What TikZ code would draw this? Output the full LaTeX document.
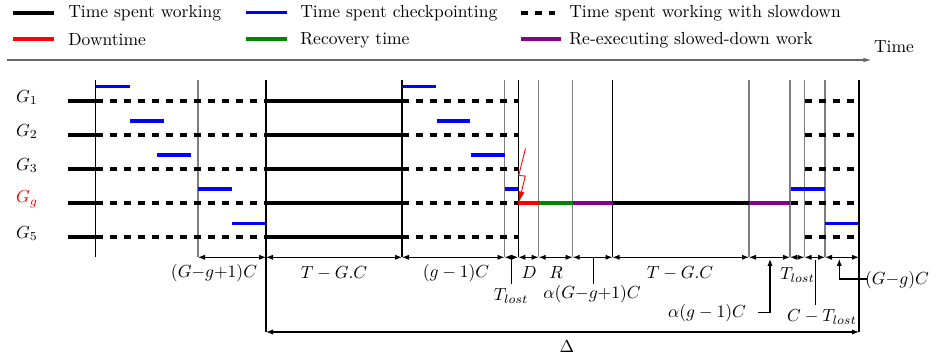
\documentclass[tikz,border=0pt]{standalone}
\usetikzlibrary{arrows.meta}
\definecolor{ckblue}{RGB}{0,0,255}
\definecolor{dtred}{RGB}{255,0,0}
\definecolor{recgreen}{RGB}{0,135,0}
\definecolor{rexpurple}{RGB}{135,0,140}
\definecolor{vgray}{RGB}{125,125,125}
\begin{document}
\begin{tikzpicture}[x=0.5714pt,y=-0.5714pt,
  work/.style={line width=2.3pt,draw=black},
  slow/.style={line width=2.3pt,draw=black,dash pattern=on 4pt off 4pt},
  ckpt/.style={line width=1.9pt,draw=ckblue},
  down/.style={line width=2.3pt,draw=dtred},
  reco/.style={line width=2.3pt,draw=recgreen},
  rexe/.style={line width=2.3pt,draw=rexpurple},
  bline/.style={line width=0.6pt,draw=black},
  gline/.style={line width=0.6pt,draw=vgray},
  dimarrow/.style={line width=0.6pt,draw=black,{Latex[length=4pt,width=3pt]}-{Latex[length=4pt,width=3pt]}},
  uparrow/.style={line width=0.6pt,draw=black,-{Latex[length=4pt,width=3pt]}},
  thin/.style={line width=0.6pt,draw=black},
  legtext/.style={anchor=west,inner sep=0pt},
  lbl/.style={inner sep=0pt},
]
\useasboundingbox (0,0) rectangle (936,360);

% ---------- legend ----------
\draw[work] (13,12.7) -- (54,12.7);
\node[legtext] (lg1) at (68,13) {Time spent working};
\draw[ckpt] (246,12.7) -- (287,12.7);
\node[legtext] (lg2) at (300,13) {Time spent checkpointing};
\draw[slow] (521,12.7) -- (555,12.7);
\node[legtext] (lg3) at (569,13) {Time spent working with slowdown};
\draw[down] (13,39.3) -- (54,39.3);
\node[legtext] (lg4) at (68,40) {Downtime};
\draw[reco] (246,39.3) -- (287,39.3);
\node[legtext] (lg5) at (300,40) {Recovery time};
\draw[rexe] (521,39.3) -- (561,39.3);
\node[legtext] (lg6) at (569,40) {Re-executing slowed-down work};

% ---------- time axis ----------
\coordinate (ax0) at (7,60);
\coordinate (ax1) at (872,60);
\draw[line width=0.7pt,draw=black!60,-{Latex[length=5pt,width=2.6pt]}] (ax0) -- (ax1);
\node[lbl] (timelbl) at (894,47) {Time};

% ---------- vertical lines ----------
\foreach \n/\x in {0/95.7,1/198,2/266,3/402,4/504.5,5/518.3,6/538.7,7/572.7,8/612.5,9/749,10/790,11/804.5,12/825,13/859}{
  \coordinate (v\n t) at (\x,80);
  \coordinate (v\n d) at (\x,257.3);
}
\coordinate (v2b) at (266,332);
\coordinate (v13b) at (859,332);
\draw[bline] (v0t) -- (v0d);
\draw[gline] (v1t) -- (v1d);
\draw[bline] (v2t) -- (v2b);
\draw[bline] (v3t) -- (v3d);
\draw[gline] (v4t) -- (v4d);
\draw[bline] (v5t) -- (v5d);
\draw[gline] (v6t) -- (v6d);
\draw[gline] (v7t) -- (v7d);
\draw[bline] (v8t) -- (v8d);
\draw[gline] (v9t) -- (v9d);
\draw[gline] (v10t) -- (v10d);
\draw[gline] (v11t) -- (v11d);
\draw[gline] (v12t) -- (v12d);
\draw[bline] (v13t) -- (v13b);

% ---------- processor rows ----------
\node[lbl] (g1) at (27,97.5) {$G_1$};
\node[lbl] (g2) at (27,131.5) {$G_2$};
\node[lbl] (g3) at (27,165.5) {$G_3$};
\node[lbl,text=dtred] (gg) at (27,199.5) {$G_g$};
\node[lbl] (g5) at (27,233.5) {$G_5$};

\foreach \y in {100.7,134.7,169,203,237}{
  \draw[work] (68,\y) -- (95.7,\y);
  \draw[slow] (95.7,\y) -- (266,\y);
  \draw[work] (266,\y) -- (402,\y);
  \draw[slow] (402,\y) -- (518.3,\y);
}
\foreach \y in {100.7,134.7,169,237}{
  \draw[slow] (804.5,\y) -- (855,\y);
}
% failed group
\draw[down] (518.3,203) -- (538.7,203);
\draw[reco] (538.7,203) -- (572.7,203);
\draw[rexe] (572.7,203) -- (612.5,203);
\draw[work] (612.5,203) -- (749,203);
\draw[rexe] (749,203) -- (790,203);
\draw[slow] (790.5,203) -- (855,203);

% checkpoints
\draw[ckpt] (95.7,86.7) -- (129.7,86.7);
\draw[ckpt] (130,121) -- (164,121);
\draw[ckpt] (157,155) -- (191,155);
\draw[ckpt] (198,189) -- (232,189);
\draw[ckpt] (232,223.3) -- (266,223.3);
\draw[ckpt] (402,86.7) -- (436,86.7);
\draw[ckpt] (436.5,121) -- (470,121);
\draw[ckpt] (471,155) -- (504.5,155);
\draw[ckpt] (504.5,189) -- (518.3,189);
\draw[ckpt] (791,189) -- (825,189);
\draw[ckpt] (825,223.3) -- (858,223.3);

% failure lightning
\coordinate (f0) at (525.5,148.5);
\coordinate (f1) at (518.7,175.5);
\coordinate (f2) at (525.3,176);
\coordinate (f3) at (519,202);
\draw[line width=0.5pt,draw=dtred,-{Latex[length=6pt,width=3.5pt]}] (f0) -- (f1) -- (f2) -- (f3);

% ---------- dimension arrows ----------
\foreach \a/\b in {1/2,2/3,3/4,4/5,5/6,6/7,7/8,8/9,9/10,10/11,11/12,12/13}{
  \draw[dimarrow] (v\a d) -- (v\b d);
}
\coordinate (dl) at (266,332);
\coordinate (dr) at (859,332);
\draw[dimarrow] (dl) -- (dr);

% labels
\node[lbl] (n1) at (214,273.5) {$(G{-}g{+}1)C$};
\node[lbl] (n2) at (334,273.5) {$T-G.C$};
\node[lbl] (n3) at (456,273.5) {$(g-1)C$};
\node[lbl] (n4) at (529,272.5) {$D$};
\node[lbl] (n5) at (556,272.5) {$R$};
\node[lbl] (n6) at (680,273.5) {$T-G.C$};
\node[lbl] (n7) at (797.5,275) {$T_{lost}$};

\node[lbl] (m1) at (511,296) {$T_{lost}$};
\coordinate (m1a) at (511.5,258);
\coordinate (m1b) at (511.5,284);
\draw[thin] (m1a) -- (m1b);

\node[lbl] (m2) at (592,294.5) {$\alpha(G{-}g{+}1)C$};
\coordinate (m2a) at (593.3,258);
\coordinate (m2b) at (593.3,284);
\draw[thin] (m2a) -- (m2b);

\node[lbl] (m3) at (707,313) {$\alpha(g-1)C$};
\coordinate (m3a) at (758,312.5);
\coordinate (m3b) at (770,312.5);
\coordinate (m3c) at (770,259);
\draw[uparrow] (m3a) -- (m3b) -- (m3c);

\node[lbl] (m4) at (822,317) {$C-T_{lost}$};
\coordinate (m4a) at (815.7,260);
\coordinate (m4b) at (815.7,305);
\draw[thin] (m4a) -- (m4b);

\node[lbl] (m5) at (897,280) {$(G{-}g)C$};
\coordinate (m5a) at (867,279);
\coordinate (m5b) at (839.3,279);
\coordinate (m5c) at (839.3,259);
\draw[uparrow] (m5a) -- (m5b) -- (m5c);

\node[lbl] (delta) at (567,347) {$\Delta$};
\end{tikzpicture}
\end{document}
